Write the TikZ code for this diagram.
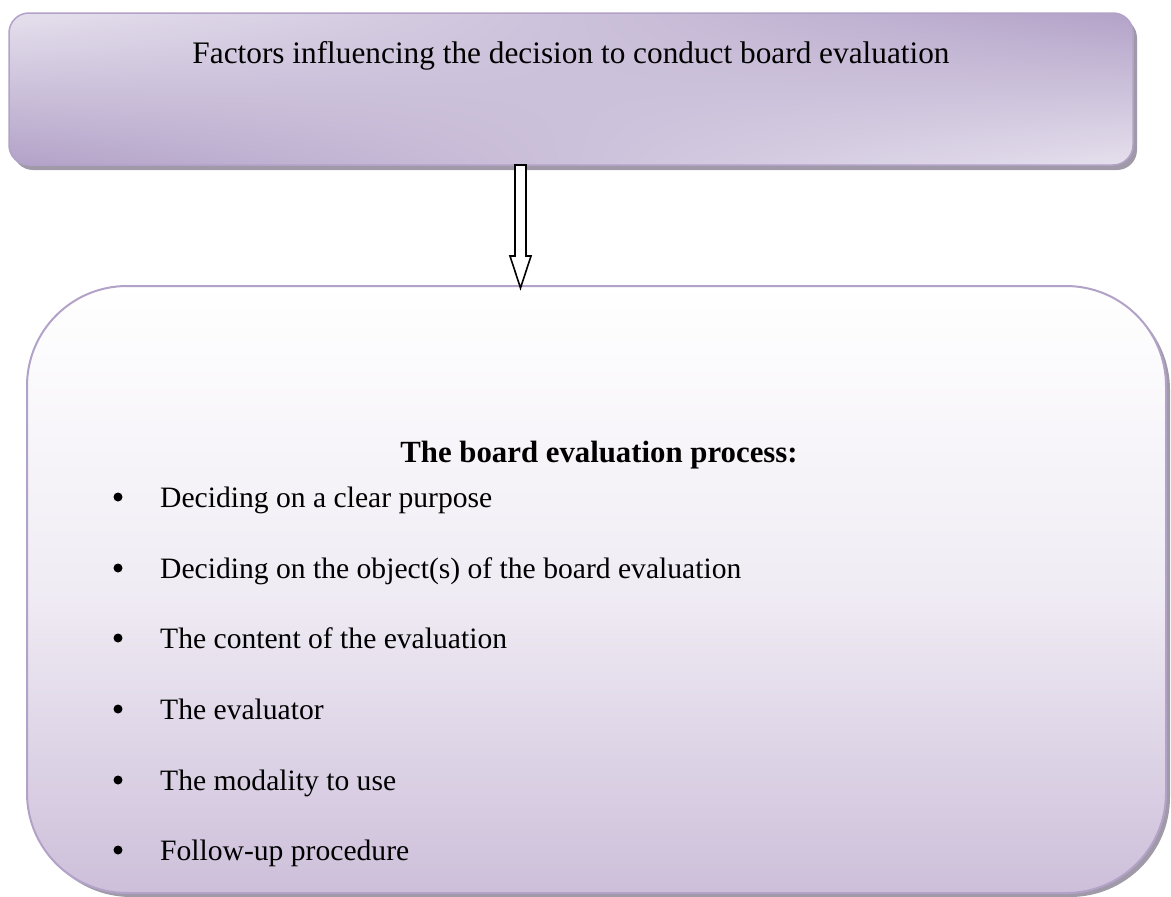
\documentclass[tikz,border=0pt]{standalone}
\usepackage{fontspec}
\setmainfont{Liberation Serif}
\usetikzlibrary{shadows,shadings}
\definecolor{lavdark}{HTML}{B3A2C8}
\definecolor{lavlight}{HTML}{E5E0ED}
\definecolor{lavbot}{HTML}{CDBFDA}
\definecolor{shadowgray}{HTML}{A099A8}
\tikzset{
  x=1pt, y=1pt,
  topbox/.style={rounded corners=20pt, draw=lavdark, line width=1.5pt,
    upper left=lavlight, lower left=lavdark, upper right=lavdark, lower right=lavlight,
    drop shadow={shadow xshift=4pt, shadow yshift=-5pt, fill=shadowgray, opacity=1},
    minimum width=1124pt, minimum height=152pt, inner sep=0pt},
  botbox/.style={rounded corners=100pt, draw=lavdark, line width=2pt,
    top color=white, bottom color=lavbot, middle color=white!70!lavbot,
    drop shadow={shadow xshift=4pt, shadow yshift=-4pt, fill=shadowgray, opacity=1},
    minimum width=1139pt, minimum height=607pt, inner sep=0pt},
  txt/.style={font=\fontsize{29.6}{36}\selectfont, inner sep=0pt, anchor=base west},
  bul/.style={circle, fill=black, inner sep=0pt, minimum size=9pt},
  blockarrow/.style={draw=black, line width=1.6pt, fill=white, line join=miter}
}
\begin{document}
\begin{tikzpicture}
\useasboundingbox (0,0) rectangle (1171,-897);
\node[topbox] (top) at (571,-89) {};
\node[botbox] (bot) at (596.5,-589.5) {};
\node[font=\fontsize{31.3}{38}\selectfont, inner sep=0pt, anchor=base] (title) at (571,-63) {Factors influencing the decision to conduct board evaluation};
\node[font=\fontsize{30.8}{37}\selectfont\bfseries, inner sep=0pt, anchor=base] (head) at (599,-462) {The board evaluation process:};
\foreach \i/\t [count=\k] in {507/Deciding on a clear purpose, 578/Deciding on the object(s) of the board evaluation, 648/The content of the evaluation, 719/The evaluator, 790/The modality to use, 860/Follow-up procedure} {
  \node[bul] (b\k) at (118,-\i+10) {};
  \node[txt] (t\k) at (160,-\i) {\t};
}
\coordinate (as) at (520.5,-165);
\draw[blockarrow] (as) ++(-5.5,0) -- ++(0,-91) -- ++(-5,0) -- (520.5,-288) -- ++(10.5,32) -- ++(-5,0) -- ++(0,91) -- cycle;
\end{tikzpicture}
\end{document}
